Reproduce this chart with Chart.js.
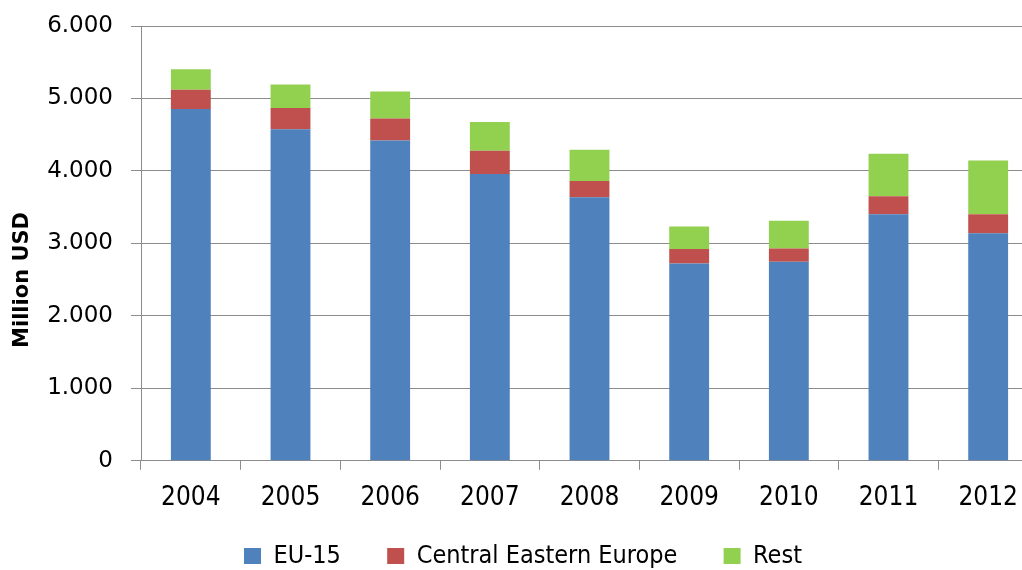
<!DOCTYPE html>
<html>
<head>
<meta charset="utf-8">
<script src="https://cdn.jsdelivr.net/npm/chart.js@4/dist/chart.umd.min.js"></script>
<style>
  html, body { margin: 0; padding: 0; background: #fff; overflow: hidden; }
  #wrap { width: 1038px; height: 570px; }
</style>
</head>
<body>
<div id="wrap"><canvas id="chart" width="1038" height="570"></canvas></div>
<script>
// years on the x axis
var years = ["2004", "2005", "2006", "2007", "2008", "2009", "2010", "2011", "2012"];

// million USD
var eu15 = [4856, 4574, 4421, 3958, 3637, 2721, 2746, 3403, 3139];
var centralEastern = [263, 295, 301, 321, 224, 200, 185, 246, 264];
var rest = [284, 325, 375, 395, 432, 312, 380, 587, 741];

var yTicks = [0, 1000, 2000, 3000, 4000, 5000, 6000];

var gridGrey = '#8c8c8c';

function dotThousands(v) {
  return String(v).replace(/\B(?=(\d{3})+(?!\d))/g, '.');
}

new Chart(document.getElementById("chart"), {
  type: 'bar',
  data: {
    labels: years,
    datasets: [
      { label: "EU-15", data: eu15, backgroundColor: '#4f81bd' },
      { label: "Central Eastern Europe", data: centralEastern, backgroundColor: '#c0504d' },
      { label: "Rest", data: rest, backgroundColor: '#92d050' }
    ]
  },
  options: {
    responsive: false,
    animation: false,
    layout: { padding: { top: 26, left: 8, right: 0, bottom: -8.5 } },
    datasets: {
      bar: { barPercentage: 0.4, categoryPercentage: 1.0 }
    },
    plugins: {
      tooltip: { enabled: false },
      legend: {
        position: 'bottom',
        labels: {
          boxWidth: 17,
          boxHeight: 16,
          padding: 32,
          color: '#000',
          font: { family: 'DejaVu Sans Condensed', size: 25 },
          // a bit more room between the entries, without a taller legend
          generateLabels: function(chart) {
            var items = Chart.defaults.plugins.legend.labels.generateLabels(chart);
            items.forEach(function(it, i) {
              if (i < items.length - 1) it.text += '  ';
            });
            return items;
          }
        }
      }
    },
    scales: {
      x: {
        stacked: true,
        afterFit: function(scale) { scale.height -= 15.5; },
        border: { color: gridGrey, width: 1 },
        grid: { drawOnChartArea: false, tickLength: 9, color: gridGrey },
        ticks: { color: '#000', padding: 13, font: { family: 'DejaVu Sans Condensed', size: 26 } }
      },
      y: {
        stacked: true,
        min: 0,
        max: 6000,
        afterBuildTicks: function(scale) {
          scale.ticks = yTicks.map(function(v) { return { value: v }; });
        },
        afterFit: function(scale) {
          scale.width = 133;
          scale.paddingTop = 0;
          scale.paddingBottom = 0;
        },
        border: { color: gridGrey, width: 1 },
        grid: { color: gridGrey, tickLength: 10 },
        ticks: {
          color: '#000',
          padding: 18,
          font: { family: 'DejaVu Sans', size: 23 },
          callback: function(v) { return dotThousands(v); }
        },
        title: {
          display: true,
          // trailing spaces push the visible words down like the original
          text: 'Million USD          ',
          color: '#000',
          padding: { top: 2, bottom: 0 },
          font: { family: 'DejaVu Sans', size: 21, weight: 'bold' }
        }
      }
    }
  }
});
</script>
</body>
</html>
